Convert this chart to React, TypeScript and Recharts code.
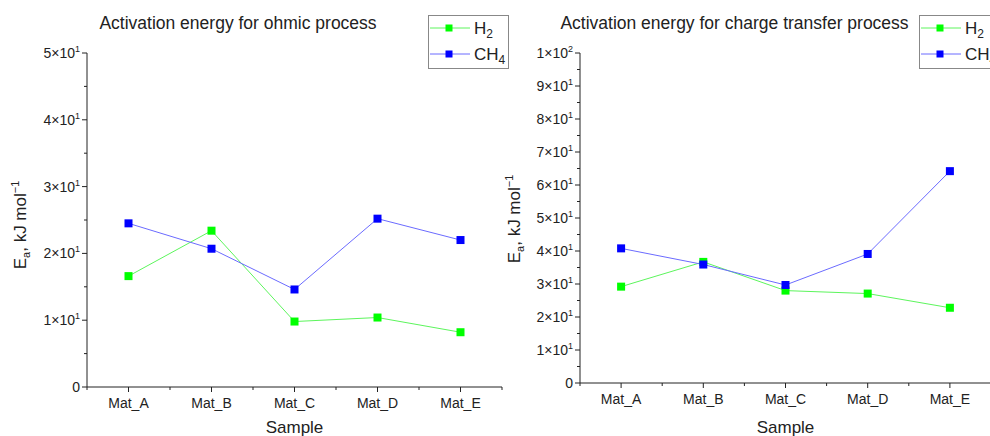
import React from "react";
import { Line, LineChart, XAxis, YAxis } from "recharts";

const samples = ["Mat_A", "Mat_B", "Mat_C", "Mat_D", "Mat_E"];
const ohmicH2 = [16.6, 23.4, 9.8, 10.4, 8.2];
const ohmicCH4 = [24.5, 20.7, 14.6, 25.2, 22.0];
const chargeH2 = [29.2, 36.7, 28.0, 27.1, 22.8];
const chargeCH4 = [40.8, 35.9, 29.7, 39.1, 64.2];
const ohmicTicks = [0, 5, 10, 15, 20, 25, 30, 35, 40, 45, 50];
const chargeTicks = [0, 5, 10, 15, 20, 25, 30, 35, 40, 45, 50, 55, 60, 65, 70, 75, 80, 85, 90, 95, 100];

const FONT = "'Liberation Sans', Arial, sans-serif";
const AXIS = "#222";
const H2_FILL = "#00ff00";
const H2_LINE = "#5cf55c";
const CH4_FILL = "#0000ff";
const CH4_LINE = "#6b6bff";

function sci(v: number) {
  if (v === 0) return { mant: "0", exp: "" };
  const exp = Math.floor(Math.log10(v) + 1e-9);
  return { mant: String(Math.round(v / Math.pow(10, exp))), exp: String(exp) };
}

function YTick(props: any) {
  const { x, y, payload } = props;
  const v = payload.value as number;
  if (v % 10 !== 0) {
    return <line x1={x - 3} x2={x} y1={y} y2={y} stroke={AXIS} />;
  }
  const s = sci(v);
  return (
    <g>
      <line x1={x - 5} x2={x} y1={y} y2={y} stroke={AXIS} />
      <text x={x - 7} y={y + 5} textAnchor="end" fontFamily={FONT} fontSize={14} fill={AXIS}>
        {s.exp === "" ? (
          "0"
        ) : (
          <>
            <tspan>{s.mant}×10</tspan>
            <tspan dy={-6} fontSize={9}>{s.exp}</tspan>
          </>
        )}
      </text>
    </g>
  );
}

function makeXTick(bw: number) {
  return (props: any) => {
    const { x, y, payload, index } = props;
    return (
      <g>
        <line x1={x} x2={x} y1={y} y2={y + 5} stroke={AXIS} />
        {index === 0 && <line x1={x - bw / 2} x2={x - bw / 2} y1={y} y2={y + 3} stroke={AXIS} />}
        <line x1={x + bw / 2} x2={x + bw / 2} y1={y} y2={y + 3} stroke={AXIS} />
        <text x={x} y={y + 21} textAnchor="middle" fontFamily={FONT} fontSize={14} fill={AXIS}>
          {payload.value}
        </text>
      </g>
    );
  };
}

const square = (fill: string, size: number) => (p: any) => (
  <rect key={p.index} x={p.cx - size / 2} y={p.cy - size / 2} width={size} height={size} fill={fill} />
);

interface PanelProps {
  left: number;
  width: number;
  yAxisW: number;
  top: number;
  xAxisH: number;
  right: number;
  title: string;
  titleX: number;
  h2: number[];
  ch4: number[];
  ticks: number[];
  labelX: number;
  labelY: number;
  legendX: number;
}

function Panel(p: PanelProps) {
  const data = samples.map((s, i) => ({ sample: s, H2: p.h2[i], CH4: p.ch4[i] }));
  const plotL = p.yAxisW;
  const plotR = p.width - p.right;
  const bw = (plotR - plotL) / samples.length;
  const cx = (plotL + plotR) / 2;
  return (
    <div style={{ position: "absolute", left: p.left, top: 0, width: p.width, height: 436 }}>
      <LineChart width={p.width} height={436} data={data} margin={{ top: p.top, right: p.right, bottom: 0, left: 0 }}>
        <XAxis
          dataKey="sample"
          scale="band"
          height={p.xAxisH}
          interval={0}
          tickSize={0}
          tickMargin={0}
          tickLine={false}
          axisLine={{ stroke: AXIS }}
          tick={makeXTick(bw)}
        />
        <YAxis
          type="number"
          width={p.yAxisW}
          domain={[0, p.ticks[p.ticks.length - 1]]}
          ticks={p.ticks}
          interval={0}
          tickSize={0}
          tickMargin={0}
          tickLine={false}
          axisLine={{ stroke: AXIS }}
          tick={YTick}
        />
        <Line
          type="linear"
          dataKey="H2"
          stroke={H2_LINE}
          strokeWidth={1}
          dot={square(H2_FILL, 8)}
          activeDot={false}
          isAnimationActive={false}
        />
        <Line
          type="linear"
          dataKey="CH4"
          stroke={CH4_LINE}
          strokeWidth={1}
          dot={square(CH4_FILL, 8)}
          activeDot={false}
          isAnimationActive={false}
        />
      </LineChart>
      <svg
        width={p.width}
        height={436}
        style={{ position: "absolute", left: 0, top: 0, pointerEvents: "none", overflow: "visible" }}
      >
        <text x={p.titleX} y={29} textAnchor="middle" fontFamily={FONT} fontSize={17.5} fill={AXIS}>
          {p.title}
        </text>
        <text x={cx} y={433} textAnchor="middle" fontFamily={FONT} fontSize={17} fill={AXIS}>
          Sample
        </text>
        <text
          x={p.labelX}
          y={p.labelY}
          transform={`rotate(-90 ${p.labelX} ${p.labelY})`}
          textAnchor="middle"
          fontFamily={FONT}
          fontSize={17}
          fill={AXIS}
        >
          E<tspan dy={4} fontSize={11}>a</tspan>
          <tspan dy={-4}>, kJ mol</tspan>
          <tspan dy={-7} fontSize={11}>−1</tspan>
        </text>
        <g transform={`translate(${p.legendX},15)`}>
          <rect x={0.5} y={0.5} width={80} height={53} fill="#fff" stroke="#888" />
          <line x1={2} x2={42} y1={13} y2={13} stroke={H2_LINE} />
          <rect x={17.5} y={9.5} width={7} height={7} fill={H2_FILL} />
          <text x={46} y={19} fontFamily={FONT} fontSize={17} fill={AXIS}>
            H<tspan dy={4} fontSize={12}>2</tspan>
          </text>
          <line x1={2} x2={42} y1={39} y2={39} stroke={CH4_LINE} />
          <rect x={17.5} y={35.5} width={7} height={7} fill={CH4_FILL} />
          <text x={46} y={45} fontFamily={FONT} fontSize={17} fill={AXIS}>
            CH<tspan dy={4} fontSize={12}>4</tspan>
          </text>
        </g>
      </svg>
    </div>
  );
}

export default function App() {
  return (
    <div style={{ position: "absolute", left: 0, top: 0, width: 990, height: 436, overflow: "hidden", background: "#fff" }}>
      <Panel
        left={0}
        width={520}
        yAxisW={87}
        top={53}
        xAxisH={49}
        right={18}
        title="Activation energy for ohmic process"
        titleX={238}
        h2={ohmicH2}
        ch4={ohmicCH4}
        ticks={ohmicTicks}
        labelX={26}
        labelY={225}
        legendX={428}
      />
      <Panel
        left={500}
        width={500}
        yAxisW={80}
        top={53}
        xAxisH={53}
        right={9}
        title="Activation energy for charge transfer process"
        titleX={234.5}
        h2={chargeH2}
        ch4={chargeCH4}
        ticks={chargeTicks}
        labelX={20}
        labelY={219}
        legendX={419}
      />
    </div>
  );
}
